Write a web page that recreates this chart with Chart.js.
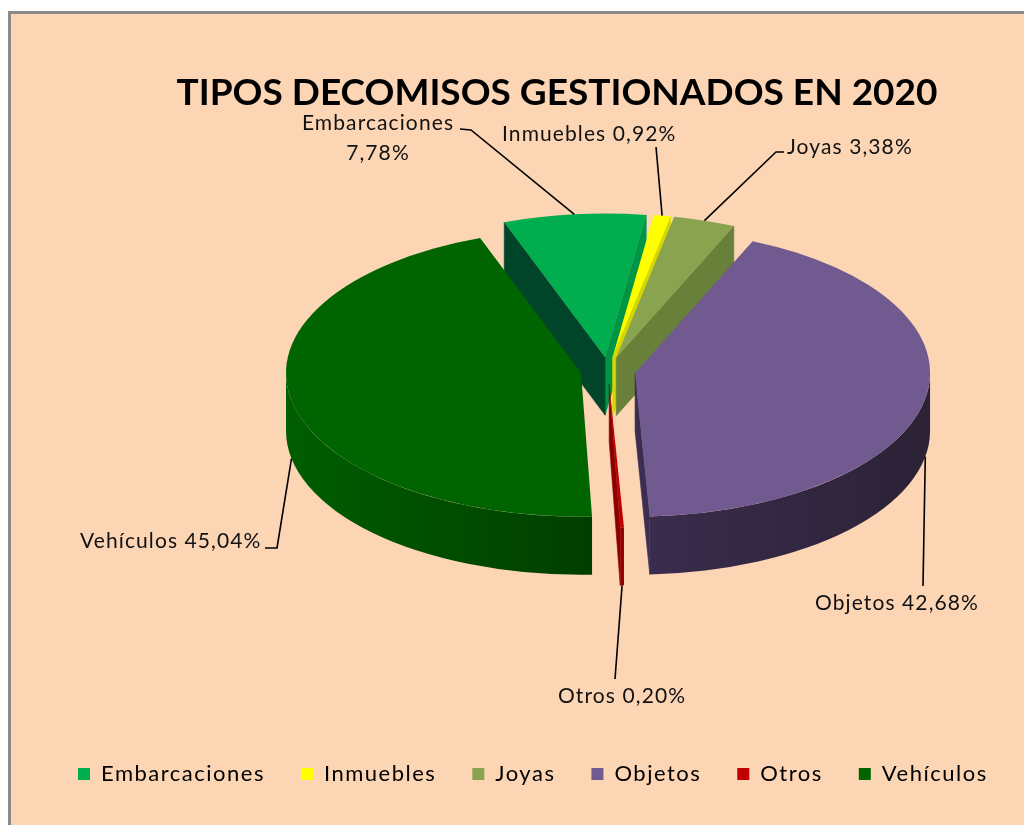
<!DOCTYPE html>
<html><head><meta charset="utf-8">
<script src="https://cdn.jsdelivr.net/npm/chart.js@4.4.1/dist/chart.umd.min.js"></script>
<style>
html,body{margin:0;padding:0;background:#fff;overflow:hidden;width:1024px;height:825px;}
#frame{position:absolute;left:8px;top:11px;width:1100px;height:900px;background:#FCD5B4;border-left:3px solid #8a8a8a;border-top:3px solid #8a8a8a;}
#c{position:absolute;left:0;top:0;}
</style></head><body>
<div id="frame"></div>
<canvas id="c" width="1100" height="825"></canvas>
<script>
// ---- data ----
const categories = ['Embarcaciones', 'Inmuebles', 'Joyas', 'Objetos', 'Otros', 'Vehículos'];
const percentages = [7.78, 0.92, 3.38, 42.68, 0.20, 45.04];
const titleText = 'TIPOS DECOMISOS GESTIONADOS EN 2020';

// ---- styles ----
const topColors   = ['#00AD4F', '#FFFF00', '#8AA34F', '#705A8F', '#C00000', '#006400'];
const startFaceColors = ['#00452A', '#CCCC00', '#5F7634', '#3B2E52', '#8A0000', '#004A00'];
const endFaceColors   = ['#009445', '#D6D600', '#68803A', '#3B2E52', '#8A0000', '#004A00'];
const wallLeftColors  = ['#007A38', '#CCCC00', '#68803A', '#3A2C4D', '#A00000', '#005E00'];
const wallRightColors = ['#006030', '#B0B000', '#556B30', '#2B2236', '#800000', '#003E00'];

// projection of the pie (screen centre, vertical squish, thickness, explosion)
const view = { cx: 608, cy: 370.5, k: 0.487, depth: 58, explode: 27.5, radius: 295 };
const legendSpacing = '1.5px';
const labelSpacing = '1.1px';

// label placement (screen px): baselines, text x, leader end points
const labelLayout = [
  { lines: 2, x: 378, align: 'center', base: [130, 160], leader: [[471, 130], [460, 129]] },
  { lines: 1, x: 502, align: 'left', base: [141], leader: [[656, 147]] },
  { lines: 1, x: 787, align: 'left', base: [154], leader: [[776, 152], [784, 152]] },
  { lines: 1, x: 815, align: 'left', base: [610], leader: [[923, 586]] },
  { lines: 1, x: 558, align: 'left', base: [703], leader: [[615, 679]] },
  { lines: 1, x: 80,  align: 'left', base: [548], leader: [[277, 548], [265, 548]] }
];

const fmt = v => v.toFixed(2).replace('.', ',') + '%';

function baseCenter(chart) {
  const a = chart.chartArea;
  return { x: (a.left + a.right) / 2, y: (a.top + a.bottom) / 2 };
}
function toScreen(chart, x, y) {
  const b = baseCenter(chart);
  return { x: x - b.x + view.cx, y: (y - b.y) * view.k + view.cy };
}

// give the legend text a little tracking (fit + draw), leave everything else untouched
function spaced(fn, ctx) {
  return function () {
    ctx.save();
    ctx.letterSpacing = legendSpacing;
    const r = fn.apply(this, arguments);
    ctx.restore();
    return r;
  };
}

const pie3d = {
  id: 'pie3d',
  beforeLayout(chart) {
    const lg = chart.legend;
    if (lg && !lg._spaced) {
      lg.fit = spaced(lg.fit, chart.ctx);
      lg.draw = spaced(lg.draw, chart.ctx);
      lg._spaced = true;
    }
  },
  afterUpdate(chart) {
    const b = baseCenter(chart);
    chart.getDatasetMeta(0).data.forEach(el => {
      const mid = (el.startAngle + el.endAngle) / 2;
      el.x = b.x + Math.cos(mid) * view.explode;
      el.y = b.y + Math.sin(mid) * view.explode;
    });
  },
  beforeDatasetsDraw(chart) {
    const ctx = chart.ctx;
    const b = baseCenter(chart);
    ctx.save();
    ctx.translate(view.cx, view.cy);
    ctx.scale(1, view.k);
    ctx.translate(-b.x, -b.y);
    const D = view.depth / view.k;
    const arcs = chart.getDatasetMeta(0).data;
    const faces = [];
    arcs.forEach((el, i) => {
      const { x, y, outerRadius: r, startAngle: a0, endAngle: a1 } = el;
      const addFace = (phi, color) => {
        faces.push({ key: y + r * Math.sin(phi) / 2, draw: () => {
          const px = x + r * Math.cos(phi), py = y + r * Math.sin(phi);
          ctx.beginPath();
          ctx.moveTo(x, y); ctx.lineTo(px, py); ctx.lineTo(px, py + D); ctx.lineTo(x, y + D);
          ctx.closePath();
          ctx.fillStyle = color; ctx.fill();
          ctx.strokeStyle = color; ctx.lineWidth = 0.8; ctx.stroke();
        }});
      };
      if (Math.cos(a0) < 0) addFace(a0, startFaceColors[i]);
      if (Math.cos(a1) > 0) addFace(a1, endFaceColors[i]);
      el._wall = null;
      const w0 = Math.max(a0, 0), w1 = Math.min(a1, Math.PI);
      if (w1 > w0) el._wall = [w0, w1];
    });
    faces.sort((p, q) => p.key - q.key).forEach(f => f.draw());
    arcs.forEach((el, i) => {
      if (!el._wall) return;
      const { x, y, outerRadius: r } = el;
      const [w0, w1] = el._wall;
      const xl = x + r * Math.cos(w1), xr = x + r * Math.cos(w0);
      const g = ctx.createLinearGradient(Math.min(xl, xr), 0, Math.max(xl, xr), 0);
      g.addColorStop(0, wallLeftColors[i]);
      g.addColorStop(1, wallRightColors[i]);
      ctx.beginPath();
      ctx.arc(x, y, r, w0, w1, false);
      ctx.arc(x, y + D, r, w1, w0, true);
      ctx.closePath();
      ctx.fillStyle = g; ctx.fill();
    });
  },
  afterDatasetsDraw(chart) {
    const ctx = chart.ctx;
    ctx.restore();
    const arcs = chart.getDatasetMeta(0).data;
    const labels = chart.data.labels;
    const vals = chart.data.datasets[0].data;
    ctx.save();
    ctx.strokeStyle = '#000';
    ctx.lineWidth = 1.6;
    arcs.forEach((el, i) => {
      const mid = (el.startAngle + el.endAngle) / 2;
      const wx = el.x + el.outerRadius * Math.cos(mid);
      const wy = el.y + el.outerRadius * Math.sin(mid);
      const p = toScreen(chart, wx, wy);
      if (Math.sin(mid) > 0) p.y += view.depth;
      const L = labelLayout[i];
      ctx.beginPath();
      ctx.moveTo(p.x, p.y);
      L.leader.forEach(q => ctx.lineTo(q[0], q[1]));
      ctx.stroke();
      ctx.fillStyle = '#111';
      ctx.font = '21px Lato';
      ctx.letterSpacing = labelSpacing;
      ctx.textAlign = L.align;
      ctx.textBaseline = 'alphabetic';
      const txt = L.lines === 2 ? [labels[i], fmt(vals[i])] : [labels[i] + ' ' + fmt(vals[i])];
      txt.forEach((t, j) => ctx.fillText(t, L.x, L.base[j]));
    });
    ctx.restore();
  }
};

new Chart(document.getElementById('c'), {
  type: 'pie',
  data: {
    labels: categories,
    datasets: [{
      data: percentages,
      backgroundColor: topColors,
      borderWidth: 0,
      radius: view.radius,
      clip: false
    }]
  },
  options: {
    responsive: false,
    animation: false,
    events: [],
    rotation: -20,
    layout: { padding: { left: 42, right: 28, top: 0, bottom: 30 } },
    plugins: {
      title: {
        display: true, text: titleText, color: '#000',
        font: { family: 'Lato', weight: 'bold', size: 37 },
        padding: { top: 71, bottom: 10 }
      },
      legend: {
        position: 'bottom', align: 'start',
        labels: { boxWidth: 12, boxHeight: 12, padding: 36, color: '#000',
                  font: { family: 'Lato', size: 22 } }
      },
      tooltip: { enabled: false }
    }
  },
  plugins: [pie3d]
});
</script>
</body></html>
